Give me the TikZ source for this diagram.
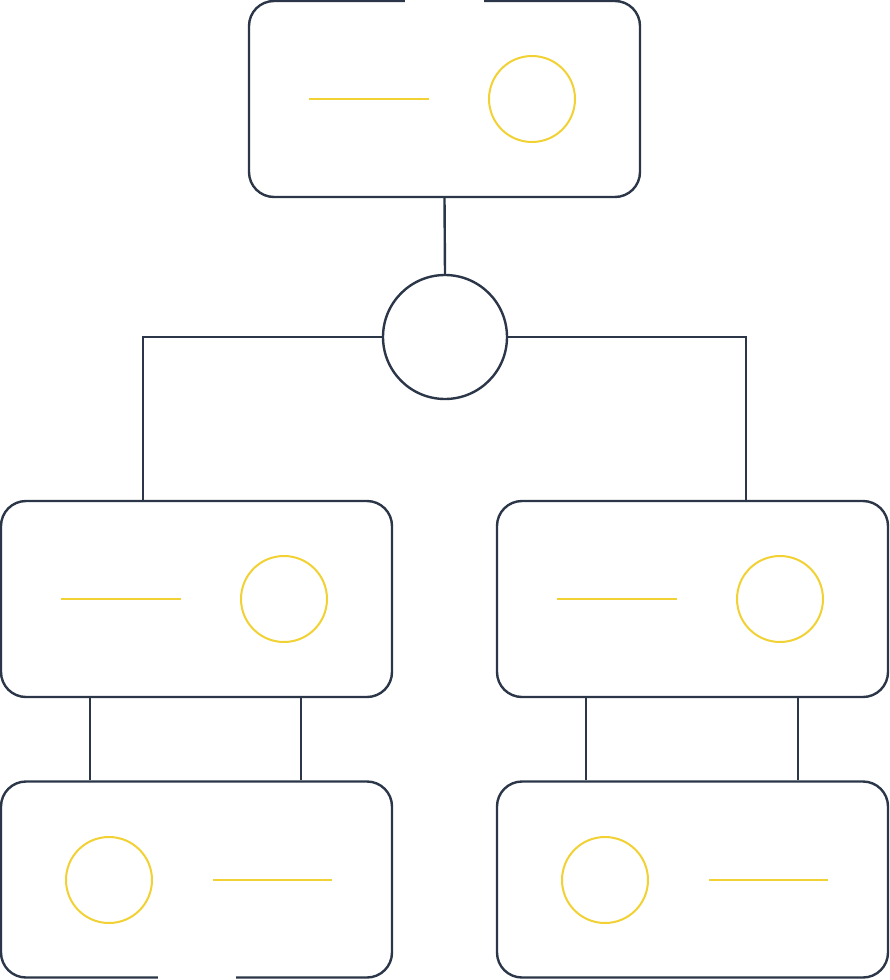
\documentclass[tikz,border=0pt]{standalone}
\usetikzlibrary{calc}
\definecolor{navy}{HTML}{2B3748}
\definecolor{gold}{HTML}{F2D135}
\tikzset{
  card/.style={draw=navy, line width=2.4pt, rounded corners=25pt, rectangle, minimum width=391pt, minimum height=196pt, inner sep=0pt, fill=white},
  dot/.style={draw=gold, line width=2pt, circle, minimum size=86pt, inner sep=0pt},
  bar/.style={draw=gold, line width=2pt},
  link/.style={draw=navy, line width=2.4pt},
  hubstyle/.style={draw=navy, line width=2.4pt, circle, minimum size=124pt, inner sep=0pt},
  gapcover/.style={draw=white, line width=5pt}
}
\begin{document}
\begin{tikzpicture}[x=1pt,y=-1pt]
\useasboundingbox (0,0) rectangle (890,980);
% boxes
\node[card] (top) at (444.5,99) {};
\node[card] (ml) at (196.5,599) {};
\node[card] (mr) at (692.5,599) {};
\node[card] (bl) at (196.5,879.5) {};
\node[card] (br) at (692.5,879.5) {};
\node[hubstyle] (hub) at (445,337) {};
% gaps in edges
\coordinate (g1) at (405,1);
\coordinate (g2) at (484,1);
\draw[gapcover] (g1) -- (g2);
\coordinate (g3) at (158,978);
\coordinate (g4) at (236,978);
\draw[gapcover] (g3) -- (g4);
% content of boxes
\node[dot] (c0) at (532,99) {};
\coordinate (l0a) at (309,99); \coordinate (l0b) at (429,99);
\draw[bar] (l0a) -- (l0b);
\node[dot] (c1) at (284,599) {};
\coordinate (l1a) at (61,599); \coordinate (l1b) at (181,599);
\draw[bar] (l1a) -- (l1b);
\node[dot] (c2) at (780,599) {};
\coordinate (l2a) at (557,599); \coordinate (l2b) at (677,599);
\draw[bar] (l2a) -- (l2b);
\node[dot] (c3) at (109,880) {};
\coordinate (l3a) at (213,880); \coordinate (l3b) at (332,880);
\draw[bar] (l3a) -- (l3b);
\node[dot] (c4) at (605,880) {};
\coordinate (l4a) at (709,880); \coordinate (l4b) at (828,880);
\draw[bar] (l4a) -- (l4b);
% connectors
\draw[link] (top.south) -- (hub.north);
\draw[link] (hub.west) -| ([xshift=-53.5pt]ml.north);
\draw[link] (hub.east) -| ([xshift=53.5pt]mr.north);
\draw[link] ([xshift=90pt]ml.south west) -- ([xshift=90pt]bl.north west);
\draw[link] ([xshift=301pt]ml.south west) -- ([xshift=301pt]bl.north west);
\draw[link] ([xshift=90pt]mr.south west) -- ([xshift=90pt]br.north west);
\draw[link] ([xshift=302pt]mr.south west) -- ([xshift=302pt]br.north west);
\end{tikzpicture}
\end{document}
